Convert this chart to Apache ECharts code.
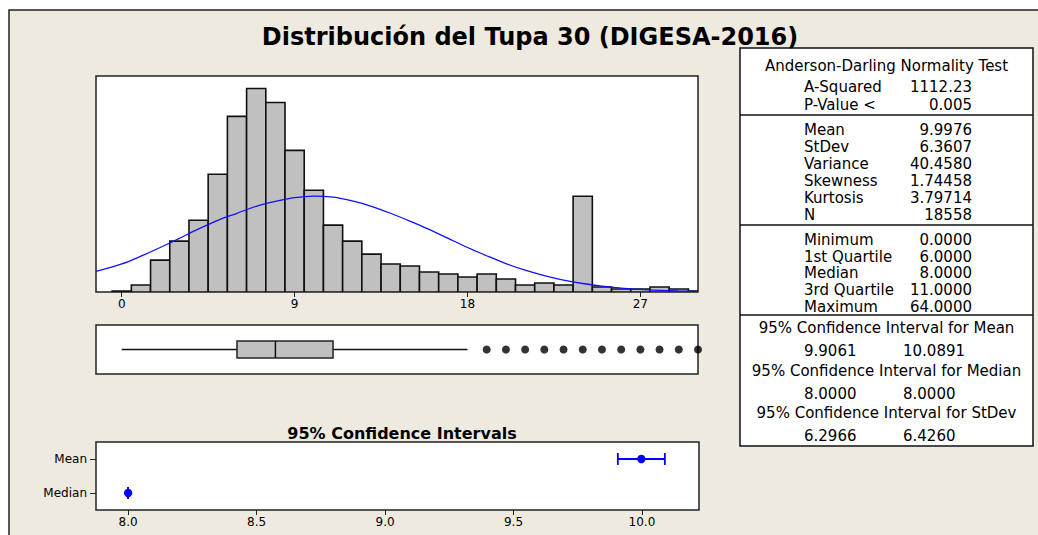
<!DOCTYPE html>
<html>
<head>
<meta charset="utf-8">
<title>Distribución del Tupa 30</title>
<script src="https://cdn.jsdelivr.net/npm/echarts@6/dist/echarts.min.js"></script>
<style>
  html, body { margin: 0; padding: 0; background: #fff; }
  #chart { width: 1038px; height: 535px; }
</style>
</head>
<body>
<div id="chart"></div>
<script>
// histograma (clases de ancho 1, centradas en enteros)
const histCenters = [0, 1, 2, 3, 4, 5, 6, 7, 8, 9, 10, 11, 12, 13, 14, 15, 16, 17, 18, 19, 20, 21, 22, 23, 24, 25, 26, 27, 28, 29, 30]
const histCounts = [12, 85, 387, 617, 871, 1428, 2130, 2468, 2299, 1718, 1234, 811, 617, 460, 339, 315, 242, 218, 182, 218, 157, 85, 109, 85, 1162, 60, 36, 36, 60, 36, 12]
const histTicks = [0, 9, 18, 27]

// curva normal ajustada
const curveX = [-1.34, 0, 1, 2, 3, 4, 5, 6, 7, 8, 9, 10, 11, 12, 13, 14, 15, 16, 17, 18, 19, 20, 21, 22, 23, 24, 25, 26, 27, 28, 29, 30]
const curveY = [250, 340, 435, 540, 650, 765, 870, 955, 1040, 1100, 1145, 1164, 1150, 1105, 1040, 955, 860, 760, 650, 540, 440, 345, 265, 200, 145, 103, 72, 48, 31, 20, 12, 7]

// diagrama de caja
const boxStats = [0, 6, 8, 11, 18]   // bigote inf, Q1, mediana, Q3, bigote sup
const outliers = [19, 20, 21, 22, 23, 24, 25, 26, 27, 28, 29, 30]

// intervalos de confianza 95%
const ciRows = ['Median', 'Mean']
const ciCenter = [8.0, 9.9976]
const ciLow = [8.0, 9.9061]
const ciHigh = [8.0, 10.0891]
const ciTicks = [8.0, 8.5, 9.0, 9.5, 10.0]

// tabla de resumen
const adTitle = 'Anderson-Darling Normality Test'
const adLabels = ['A-Squared', 'P-Value <']
const adValues = ['1112.23', '0.005']
const momentLabels = ['Mean', 'StDev', 'Variance', 'Skewness', 'Kurtosis', 'N']
const momentValues = ['9.9976', '6.3607', '40.4580', '1.74458', '3.79714', '18558']
const quantLabels = ['Minimum', '1st Quartile', 'Median', '3rd Quartile', 'Maximum']
const quantValues = ['0.0000', '6.0000', '8.0000', '11.0000', '64.0000']
const ciTitles = ['95% Confidence Interval for Mean', '95% Confidence Interval for Median', '95% Confidence Interval for StDev']
const ciPairs = [['9.9061', '10.0891'], ['8.0000', '8.0000'], ['6.2966', '6.4260']]

const FONT = 'DejaVu Sans'
const chart = echarts.init(document.getElementById('chart'), null, { renderer: 'svg' })

// ---- tabla como elementos graphic ----
const tbl = { left: 740, top: 48, right: 1033, bottom: 446 }
const graphics = []
graphics.push({
  type: 'rect', z: -10, silent: true,
  shape: { x: 9, y: 10, width: 1040, height: 540 },
  style: { fill: '#eeeae0', stroke: '#222', lineWidth: 1.5 }
})
graphics.push({
  type: 'rect', z: 5,
  shape: { x: tbl.left, y: tbl.top, width: tbl.right - tbl.left, height: tbl.bottom - tbl.top },
  style: { fill: '#fff', stroke: '#111', lineWidth: 1.5 }
})
;[115, 225, 315].forEach(y => {
  graphics.push({ type: 'line', z: 6, shape: { x1: tbl.left, y1: y, x2: tbl.right, y2: y }, style: { stroke: '#111', lineWidth: 1.5 } })
})
const midX = (tbl.left + tbl.right) / 2
function txt(x, y, s, align) {
  graphics.push({
    type: 'text', z: 7, x: x, y: y,
    style: { text: s, font: '15px "' + FONT + '"', fill: '#000', align: align || 'left', verticalAlign: 'middle' }
  })
}
function rows(labels, values, y0, step) {
  labels.forEach((l, i) => {
    txt(804, y0 + i * step, l)
    txt(972, y0 + i * step, values[i], 'right')
  })
}
txt(midX, 66, adTitle, 'center')
rows(adLabels, adValues, 87, 18)
rows(momentLabels, momentValues, 130, 16.9)
rows(quantLabels, quantValues, 240, 16.7)
ciTitles.forEach((t, i) => {
  const y = 328 + i * 42.5
  txt(midX, y, t, 'center')
  txt(804, y + 23, ciPairs[i][0])
  txt(903, y + 23, ciPairs[i][1])
})

const histMin = -1.34, histMax = 30

const option = {
  animation: false,
  title: [
    {
      text: 'Distribución del Tupa 30 (DIGESA-2016)',
      left: 525, top: 20, textAlign: 'center',
      textStyle: { fontFamily: FONT, fontWeight: 'bold', fontSize: 24, color: '#000' }
    },
    {
      text: '95% Confidence Intervals',
      left: 397, top: 420, textAlign: 'center',
      textStyle: { fontFamily: FONT, fontWeight: 'bold', fontSize: 16, color: '#000' }
    }
  ],
  graphic: graphics,
  grid: [
    { left: 96, top: 76, width: 602, height: 216, show: true, backgroundColor: '#fff', borderColor: '#222', borderWidth: 1.5 },
    { left: 96, top: 325, width: 602, height: 49, show: true, backgroundColor: '#fff', borderColor: '#222', borderWidth: 1.5 },
    { left: 96, top: 442, width: 603, height: 68, show: true, backgroundColor: '#fff', borderColor: '#222', borderWidth: 1.5 }
  ],
  xAxis: [
    {
      gridIndex: 0, type: 'value', min: histMin, max: histMax,
      splitLine: { show: false },
      axisLine: { show: false },
      axisTick: { show: true, customValues: histTicks, length: 5, lineStyle: { color: '#222' } },
      axisLabel: { customValues: histTicks, fontFamily: FONT, fontSize: 12, color: '#000', margin: 6 }
    },
    {
      gridIndex: 1, type: 'value', min: histMin, max: histMax, show: false
    },
    {
      gridIndex: 2, type: 'value', min: 7.875, max: 10.222,
      splitLine: { show: false },
      axisLine: { show: false },
      axisTick: { show: true, customValues: ciTicks, length: 5, lineStyle: { color: '#222' } },
      axisLabel: { customValues: ciTicks, fontFamily: FONT, fontSize: 12, color: '#000', margin: 6, formatter: v => v.toFixed(1) }
    }
  ],
  yAxis: [
    { gridIndex: 0, type: 'value', min: 0, max: 2620, show: false },
    { gridIndex: 1, type: 'value', min: 0, max: 1, show: false },
    {
      gridIndex: 2, type: 'category', data: ciRows,
      axisLine: { show: false },
      axisTick: { show: true, alignWithLabel: true, length: 6, lineStyle: { color: '#222' } },
      axisLabel: { fontFamily: FONT, fontSize: 12, color: '#000', margin: 9 }
    }
  ],
  series: [
    {
      // barras del histograma
      type: 'custom', xAxisIndex: 0, yAxisIndex: 0, clip: true,
      data: histCenters.map((c, i) => [c, histCounts[i]]),
      renderItem(params, api) {
        const c = api.value(0)
        const p0 = api.coord([c - 0.5, api.value(1)])
        const p1 = api.coord([c + 0.5, 0])
        return {
          type: 'rect',
          shape: { x: p0[0], y: p0[1], width: p1[0] - p0[0], height: p1[1] - p0[1] },
          style: { fill: '#c0c0c0', stroke: '#111', lineWidth: 1.6 }
        }
      }
    },
    {
      type: 'line', xAxisIndex: 0, yAxisIndex: 0, smooth: 0.3, showSymbol: false,
      data: curveX.map((x, i) => [x, curveY[i]]),
      lineStyle: { color: '#1010ff', width: 1.3 }, z: 3
    },
    {
      // caja
      type: 'custom', xAxisIndex: 1, yAxisIndex: 1,
      data: [[0.5].concat(boxStats)],
      renderItem(params, api) {
        const yv = api.value(0)
        const pt = v => api.coord([v, yv])
        const lo = pt(api.value(1)), q1 = pt(api.value(2)), md = pt(api.value(3)), q3 = pt(api.value(4)), hi = pt(api.value(5))
        const h = 8.5
        const ls = { stroke: '#111', lineWidth: 1.5 }
        return {
          type: 'group',
          children: [
            { type: 'line', shape: { x1: lo[0], y1: lo[1], x2: q1[0], y2: q1[1] }, style: ls },
            { type: 'line', shape: { x1: q3[0], y1: q3[1], x2: hi[0], y2: hi[1] }, style: ls },
            { type: 'rect', shape: { x: q1[0], y: q1[1] - h, width: q3[0] - q1[0], height: 2 * h }, style: { fill: '#c0c0c0', stroke: '#222', lineWidth: 1.5 } },
            { type: 'line', shape: { x1: md[0], y1: md[1] - h, x2: md[0], y2: md[1] + h }, style: ls }
          ]
        }
      }
    },
    {
      type: 'scatter', xAxisIndex: 1, yAxisIndex: 1, clip: false,
      data: outliers.map(v => [v, 0.5]),
      symbol: 'circle', symbolSize: 8,
      itemStyle: { color: '#000' }
    },
    {
      // intervalos de confianza
      type: 'custom', xAxisIndex: 2, yAxisIndex: 2,
      data: ciRows.map((r, i) => [ciLow[i], ciHigh[i], ciCenter[i], i]),
      renderItem(params, api) {
        const row = api.value(3)
        const a = api.coord([api.value(0), row])
        const b = api.coord([api.value(1), row])
        const c = api.coord([api.value(2), row])
        const cap = 6
        const ls = { stroke: '#0000ff', lineWidth: 1.8 }
        return {
          type: 'group',
          children: [
            { type: 'line', shape: { x1: a[0], y1: a[1], x2: b[0], y2: b[1] }, style: ls },
            { type: 'line', shape: { x1: a[0], y1: a[1] - cap, x2: a[0], y2: a[1] + cap }, style: ls },
            { type: 'line', shape: { x1: b[0], y1: b[1] - cap, x2: b[0], y2: b[1] + cap }, style: ls },
            { type: 'circle', shape: { cx: c[0], cy: c[1], r: 4.2 }, style: { fill: '#0000ff' } }
          ]
        }
      }
    }
  ]
}
chart.setOption(option)
</script>
</body>
</html>
